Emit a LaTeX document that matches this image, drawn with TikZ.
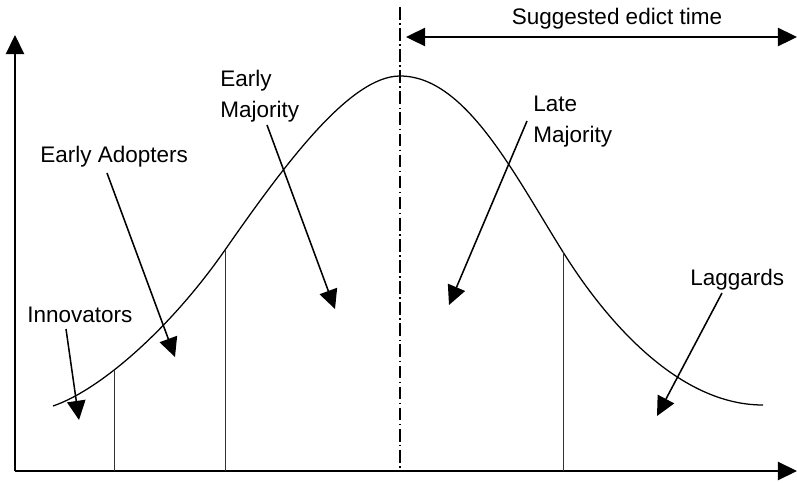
\documentclass[tikz,border=0pt]{standalone}
\usepackage{fontspec}
\setmainfont{Liberation Sans}
\usetikzlibrary{arrows.meta}

\begin{document}
\begin{tikzpicture}[
    x=0.025cm, y=-0.025cm,
    every node/.style={inner sep=0pt, font=\fontsize{16}{21.5}\selectfont},
    label/.style={anchor=base west, align=left},
    axis/.style={line width=0.9pt, -{Triangle[length=0.48cm,width=0.46cm]}},
    pointer/.style={line width=1.1pt, -{Triangle[length=0.48cm,width=0.46cm]}},
    span/.style={line width=1.1pt, {Triangle[length=0.48cm,width=0.46cm]}-{Triangle[length=0.48cm,width=0.46cm]}},
    cut/.style={line width=0.6pt, black!80},
    divider/.style={line width=0.9pt, dash pattern=on 9pt off 2.5pt on 1pt off 2.5pt}
  ]
  \useasboundingbox (0,0) rectangle (797,482);

  % Axes
  \coordinate (origin) at (15,471);
  \coordinate (xend) at (797,471);
  \coordinate (yend) at (15,35);
  \draw[axis] (origin) -- (xend);
  \draw[axis] (origin) -- (yend);

  % Bell curve
  \coordinate (cut2) at (225,250);
  \coordinate (top) at (400,76);
  \coordinate (cut3) at (563,252);
  \draw[line width=0.9pt] (53,406) .. controls (100,390) and (170,329) .. (cut2)
    .. controls (285,164) and (350,76) .. (top)
    .. controls (465,76) and (513,172) .. (cut3)
    .. controls (608,324) and (680,405) .. (763,405);

  % Category borders
  \coordinate (cut1) at (114,370);
  \draw[cut] (cut1) -- (cut1 |- origin);
  \draw[cut] (cut2) -- (cut2 |- origin);
  \draw[cut] (cut3) -- (cut3 |- origin);

  % Edict window
  \coordinate (peak) at (400,7);
  \draw[divider] (peak) -- (peak |- origin);
  \coordinate (edictl) at (406,37);
  \coordinate (edictr) at (797,37);
  \draw[span] (edictl) -- (edictr);
  \node[anchor=base] (edict) at (617,24) {Suggested edict time};

  % Labels
  \node[label] (innov) at (27,322) {Innovators};
  \node[label] (adopt) at (40,162) {Early Adopters};
  \node[label] (early) at (220,117) {Early\\Majority};
  \node[label] (late) at (533,142) {Late\\Majority};
  \node[label] (lag) at (690,285) {Laggards};

  % Pointers
  \coordinate (innovfrom) at (66,329);   \coordinate (innovto) at (79,420);
  \coordinate (adoptfrom) at (107,173);  \coordinate (adoptto) at (175,357);
  \coordinate (earlyfrom) at (267,125);  \coordinate (earlyto) at (335,309);
  \coordinate (latefrom) at (527,121);   \coordinate (lateto) at (449,305);
  \coordinate (lagfrom) at (722,293);    \coordinate (lagto) at (657,416);
  \draw[pointer] (innovfrom) -- (innovto);
  \draw[pointer] (adoptfrom) -- (adoptto);
  \draw[pointer] (earlyfrom) -- (earlyto);
  \draw[pointer] (latefrom) -- (lateto);
  \draw[pointer] (lagfrom) -- (lagto);
\end{tikzpicture}
\end{document}
